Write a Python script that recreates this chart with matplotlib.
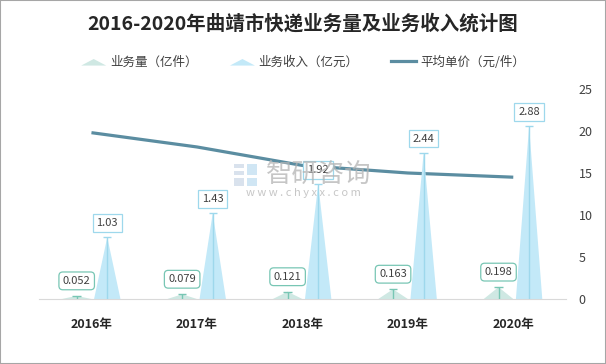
"""2016-2020 Qujing express business volume and revenue chart."""
import matplotlib
matplotlib.use("Agg")
import matplotlib.pyplot as plt
import numpy as np
from matplotlib.patches import Polygon
from matplotlib.legend_handler import HandlerPatch
from matplotlib.lines import Line2D

plt.rcParams["font.family"] = ["Noto Sans CJK SC", "DejaVu Sans"]

YEARS = ["2016年", "2017年", "2018年", "2019年", "2020年"]
VOLUME = [0.052, 0.079, 0.121, 0.163, 0.198]      # 亿件
REVENUE = [1.03, 1.43, 1.92, 2.44, 2.88]          # 亿元
UNIT_PRICE = [19.8, 18.1, 15.9, 15.0, 14.5]       # 元/件
RIGHT_TICKS = [0, 5, 10, 15, 20, 25]

GREEN_FILL = "#cfe8e3"
GREEN_LINE = "#78c6b4"
BLUE_FILL = "#c3e9f8"
BLUE_LINE = "#9ed8ec"
LINE_COLOR = "#5b8da1"
TEXT = "#404040"


def triangle(ax, xc, h, w, color):
    ax.add_patch(Polygon([[xc - w / 2, 0], [xc, h], [xc + w / 2, 0]],
                         closed=True, facecolor=color, edgecolor="none", zorder=2))


def tri_handle(legend, orig_handle, xdescent, ydescent, width, height, fontsize):
    return Polygon([[-xdescent, -ydescent], [-xdescent + width / 2, -ydescent + height * 0.75],
                    [-xdescent + width, -ydescent]], closed=True)


fig = plt.figure(figsize=(6.06, 3.64), dpi=100)
ax = fig.add_axes([0.0639, 0.1786, 0.8701, 0.5769])
ax2 = ax.twinx()

x = np.arange(len(YEARS))
for xi, v, r in zip(x, VOLUME, REVENUE):
    xg = xi - 0.14
    xb = xi + 0.15
    triangle(ax, xg, v, 0.28, GREEN_FILL)
    triangle(ax, xb, r, 0.25, BLUE_FILL)
    ax.vlines(xg, 0, v, color=GREEN_LINE, lw=1, zorder=3)
    ax.hlines(v, xg - 0.04, xg + 0.04, color=GREEN_LINE, lw=1, zorder=3)
    ax.vlines(xb, 0, r, color=BLUE_LINE, lw=1, zorder=3)
    ax.hlines(r, xb - 0.04, xb + 0.04, color=BLUE_LINE, lw=1, zorder=3)
    ax.annotate(f"{v:g}", (xg, v), xytext=(0, 15), textcoords="offset pixels",
                ha="center", va="center", fontsize=8, color=TEXT, zorder=6,
                bbox=dict(boxstyle="round,pad=0.35,rounding_size=0.35",
                          fc="white", ec=GREEN_LINE, lw=0.9))
    ax.annotate(f"{r:g}", (xb, r), xytext=(0, 14), textcoords="offset pixels",
                ha="center", va="center", fontsize=8, color=TEXT, zorder=6,
                bbox=dict(boxstyle="square,pad=0.35", fc="white", ec=BLUE_LINE, lw=0.9))

ax.set_xlim(-0.5, len(YEARS) - 0.5)
ax.set_ylim(0, 3.5)
ax.set_xticks(x)
ax.set_xticklabels(YEARS, fontsize=9, fontweight="bold", color="#262626")
ax.tick_params(axis="x", length=0, pad=14)
ax.set_yticks([])
for s in ["top", "left", "right"]:
    ax.spines[s].set_visible(False)
ax.spines["bottom"].set_color("#d9d9d9")

ax2.plot(x, UNIT_PRICE, color=LINE_COLOR, lw=2.3, zorder=4, solid_capstyle="butt")
ax2.set_ylim(0, 25)
ax2.set_yticks(RIGHT_TICKS)
ax2.tick_params(axis="y", length=0, pad=9, labelsize=9, labelcolor=TEXT)
for s in ax2.spines.values():
    s.set_visible(False)
ax.set_zorder(ax2.get_zorder() + 1)
ax.patch.set_visible(False)

# watermark (logo blocks + text), drawn over the plot like the original
for (lx, ly, lw_, lh, c) in [(234, 164, 10, 4, "#c9d6e6"), (234, 171, 10, 4, "#c9d6e6"),
                             (234, 178, 10, 8, "#c9d6e6"), (247, 164, 10, 11, "#bcdcf0"),
                             (247, 178, 10, 8, "#bcdcf0")]:
    fig.patches.append(plt.Rectangle((lx / 606, 1 - (ly + lh) / 364), lw_ / 606, lh / 364,
                                     transform=fig.transFigure, fc=c, ec="none",
                                     alpha=0.7, zorder=10))
fig.text(319 / 606, 1 - 174 / 364, "智研咨询", fontsize=19, color="#b4b4b4", alpha=0.75,
         ha="center", va="center", zorder=10)
fig.text(303 / 606, 1 - 193 / 364, "w w w . c h y x x . c o m", fontsize=8,
         color="#b4b4b4", alpha=0.75, ha="center", va="center", zorder=10)

fig.text(0.5, 1 - 24 / 364, "2016-2020年曲靖市快递业务量及业务收入统计图",
         fontsize=14, fontweight="bold", color="#262626", ha="center", va="center")

handles = [Polygon([[0, 0]], facecolor=GREEN_FILL), Polygon([[0, 0]], facecolor=BLUE_FILL),
           Line2D([], [], color=LINE_COLOR, lw=2.3)]
labels = ["业务量（亿件）", "业务收入（亿元）", "平均单价（元/件）"]
fig.legend(handles, labels, loc="center", bbox_to_anchor=(0.5, 1 - 62 / 364), ncol=3,
           frameon=False, fontsize=9, labelcolor=TEXT, handlelength=2.0,
           handletextpad=0.3, columnspacing=2.6,
           handler_map={Polygon: HandlerPatch(patch_func=tri_handle)})

fig.patches.append(plt.Rectangle((0, 0), 1, 1, transform=fig.transFigure, fill=False,
                                 ec="#a6a6a6", lw=1.5))
fig.savefig("out.png", dpi=100)
